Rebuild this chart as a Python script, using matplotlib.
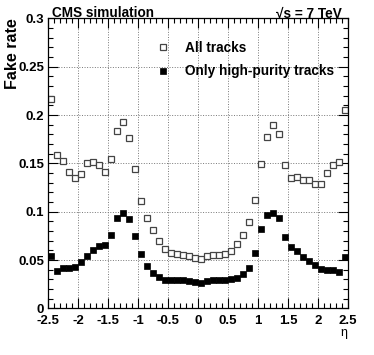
import numpy as np
import matplotlib
matplotlib.use("Agg")
import matplotlib.pyplot as plt
from matplotlib.ticker import MultipleLocator

plt.rcParams['font.family'] = ['Liberation Sans', 'DejaVu Sans']
plt.rcParams['font.weight'] = 'bold'
plt.rcParams['axes.labelweight'] = 'bold'

# eta bin centres (bins of 0.1 from -2.5 to 2.5)
eta = np.round(np.arange(-2.45, 2.46, 0.1), 2)

# fake rate, all tracks (open squares)
all_tracks = [
    0.217, 0.159, 0.152, 0.141, 0.135, 0.139, 0.150, 0.151, 0.148, 0.141,
    0.155, 0.184, 0.193, 0.176, 0.144, 0.111, 0.093, 0.081, 0.070, 0.061,
    0.057, 0.056, 0.055, 0.054, 0.052, 0.051, 0.054, 0.055, 0.055, 0.056,
    0.059, 0.067, 0.076, 0.089, 0.112, 0.149, 0.177, 0.190, 0.180, 0.148,
    0.135, 0.136, 0.133, 0.133, 0.129, 0.129, 0.140, 0.148, 0.151, 0.205,
]

# fake rate, high-purity tracks only (filled squares)
high_purity = [
    0.0545, 0.0386, 0.0414, 0.0417, 0.0431, 0.0483, 0.0545, 0.0604, 0.0645, 0.0655,
    0.0756, 0.0935, 0.0983, 0.0921, 0.0752, 0.0565, 0.0441, 0.0365, 0.0324, 0.0296,
    0.0290, 0.0290, 0.0290, 0.0283, 0.0269, 0.0265, 0.0283, 0.0290, 0.0293, 0.0296,
    0.0300, 0.0317, 0.0352, 0.0414, 0.0572, 0.0818, 0.0963, 0.0983, 0.0932, 0.0738,
    0.0631, 0.0590, 0.0534, 0.0486, 0.0452, 0.0410, 0.0400, 0.0393, 0.0376, 0.0534,
]

xtick_labels = ['-2.5', '-2', '-1.5', '-1', '-0.5', '0', '0.5', '1', '1.5', '2', '2.5']
ytick_labels = ['0', '0.05', '0.1', '0.15', '0.2', '0.25', '0.3']

fig = plt.figure(figsize=(3.74, 3.55), dpi=100)
ax = fig.add_axes([0.129, 0.1315, 0.801, 0.8165])

ax.plot(eta, all_tracks, ls='none', marker='s', ms=4.3, mfc='white',
        mec='#444444', mew=0.9, label='All tracks')
ax.plot(eta, high_purity, ls='none', marker='s', ms=4.3, mfc='black',
        mec='black', mew=0.5, label='Only high-purity tracks')

ax.set_xlim(-2.5, 2.5)
ax.set_ylim(0, 0.3)
ax.xaxis.set_minor_locator(MultipleLocator(0.1))
ax.yaxis.set_minor_locator(MultipleLocator(0.01))
ax.set_xticks(np.arange(-2.5, 2.51, 0.5))
ax.set_xticklabels(xtick_labels, fontweight='bold')
ax.set_yticks(np.arange(0, 0.301, 0.05))
ax.set_yticklabels(ytick_labels, fontweight='bold')

ax.tick_params(which='both', direction='in', top=True, right=True,
               labelsize=9.5, width=0.8)
ax.tick_params(which='major', length=7)
ax.tick_params(axis='x', which='major', pad=5)
ax.tick_params(axis='y', which='major', pad=3)
ax.tick_params(which='minor', length=3.5)
ax.grid(True, which='major', ls=':', color='#777777', lw=0.7)
for s in ax.spines.values():
    s.set_linewidth(0.9)

ax.set_ylabel('Fake rate', loc='top', fontsize=11.5, labelpad=-1)
ax.set_xlabel('η', loc='right', fontsize=9, fontweight='normal', labelpad=0)

ax.legend(loc='upper left', bbox_to_anchor=(0.355, 0.922), frameon=False,
          prop={'size': 9.8, 'weight': 'bold'}, handlelength=1.2,
          handletextpad=1.0, labelspacing=0.68, borderpad=0, borderaxespad=0)

fig.text(0.139, 0.982, 'CMS simulation', fontsize=9.8, ha='left', va='top')
fig.text(0.915, 0.982, '√s = 7 TeV', fontsize=9.8, ha='right', va='top')

fig.savefig('out.png', dpi=100)
